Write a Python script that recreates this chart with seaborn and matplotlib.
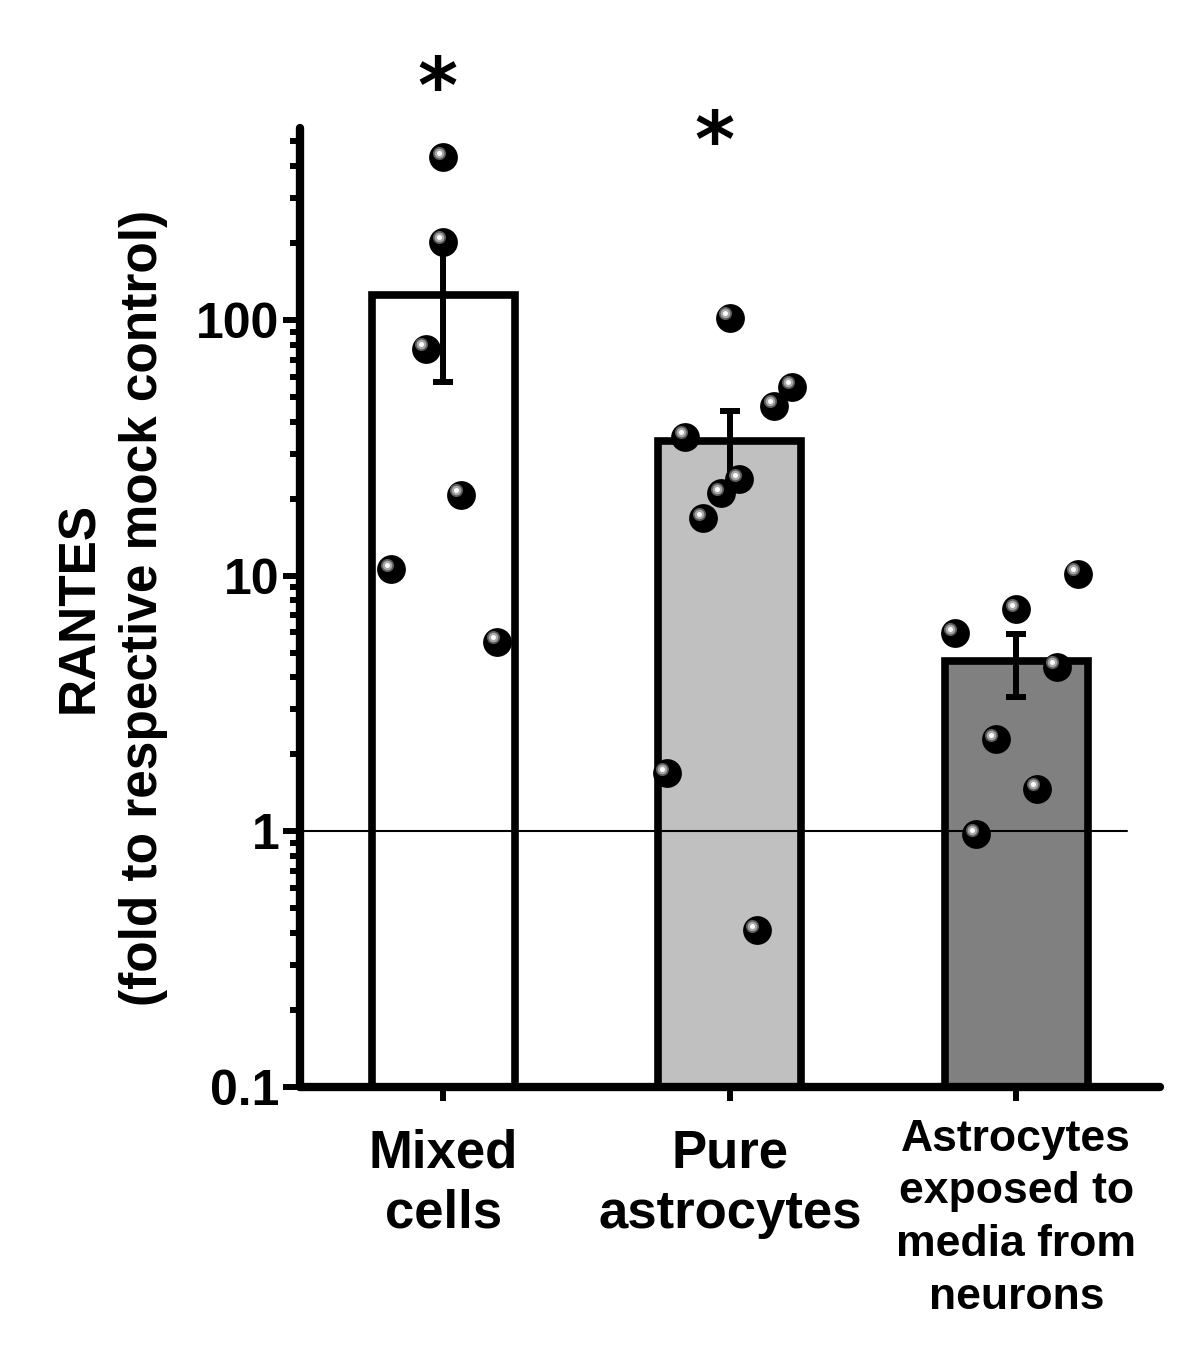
import numpy as np
import pandas as pd
import matplotlib
matplotlib.use("Agg")
import matplotlib.pyplot as plt
import matplotlib.transforms as mtransforms
from matplotlib.ticker import FixedLocator, LogLocator, NullFormatter
import seaborn as sns

# === Data ===
groups = ["Mixed\ncells", "Pure\nastrocytes", "Astrocytes\nexposed to\nmedia from\nneurons"]
bar_means = [125, 33.6, 4.63]
bar_sem = [68, 10.5, 1.27]
bar_colors = ["#ffffff", "#c0c0c0", "#808080"]

# individual experiments (value, horizontal jitter in category units)
mixed_vals = [433, 202, 77.2, 20.7, 10.6, 5.5]
mixed_dx = [0.0, 0.0, -0.061, 0.061, -0.183, 0.187]
pure_vals = [102, 54.8, 46.1, 34.9, 23.8, 21.0, 16.8, 1.69, 0.41]
pure_dx = [0.0, 0.219, 0.155, -0.156, 0.032, -0.031, -0.093, -0.22, 0.094]
exposed_vals = [10.2, 7.39, 5.95, 4.40, 2.29, 1.47, 0.975]
exposed_dx = [0.214, 0.0, -0.215, 0.141, -0.072, 0.072, -0.141]

# significance marks
star_x = [-0.02, 0.945]
star_y = [650, 400]

pts = pd.DataFrame({
    "x": [0 + d for d in mixed_dx] + [1 + d for d in pure_dx] + [2 + d for d in exposed_dx],
    "y": mixed_vals + pure_vals + exposed_vals,
})

# === Style ===
sns.set_style("ticks")
plt.rcParams["font.family"] = ["Liberation Sans", "DejaVu Sans"]
plt.rcParams["font.weight"] = "bold"
for key in ["text.color", "axes.labelcolor", "xtick.color", "ytick.color", "axes.edgecolor"]:
    plt.rcParams[key] = "black"

fig = plt.figure(figsize=(12, 13.6), dpi=100)
ax = fig.add_axes([0.25, 1 - 1087 / 1360, 859.5 / 1200, (1087 - 128) / 1360])

sns.barplot(x=groups, y=bar_means, hue=groups, palette=bar_colors, legend=False,
            width=0.5, edgecolor="black", linewidth=5.5, saturation=1,
            errorbar=None, ax=ax, zorder=2)

ax.set_yscale("log")
ax.set_ylim(0.1, 564)
ax.set_xlim(-0.5, 2.5)

# SEM error bars
ax.errorbar(range(len(groups)), bar_means, yerr=bar_sem, fmt="none", ecolor="black",
            elinewidth=4.3, capsize=7.5, capthick=4.3, zorder=4)

# reference line at 1 (no change)
ax.axhline(1, xmin=0, xmax=0.962, color="black", lw=1.5, zorder=3)

# dots: black balls with a shiny highlight
sns.scatterplot(data=pts, x="x", y="y", color="black", s=430, linewidth=0,
                zorder=5, ax=ax, legend=False)
hl = ax.transData + mtransforms.ScaledTranslation(-3.1 / 72, 3.3 / 72, fig.dpi_scale_trans)
ax.scatter(pts["x"], pts["y"], s=90, color="#5a5a5a", linewidth=0, transform=hl, zorder=6)
ax.scatter(pts["x"], pts["y"], s=48, color="#a8a8a8", linewidth=0, transform=hl, zorder=7)
ax.scatter(pts["x"], pts["y"], s=13, color="#ffffff", linewidth=0, transform=hl, zorder=8)

# asterisks
for xs, yv in zip(star_x, star_y):
    ax.text(xs, yv, "*", fontsize=55, family="DejaVu Sans", fontweight="bold",
            ha="center", va="baseline", clip_on=False)

# y axis
ax.yaxis.set_major_locator(FixedLocator([0.1, 1, 10, 100]))
ax.set_yticklabels(["0.1", "1", "10", "100"])
ax.yaxis.set_minor_locator(LogLocator(base=10, subs=np.arange(2, 10)))
ax.yaxis.set_minor_formatter(NullFormatter())
ax.tick_params(axis="y", which="major", length=12, width=4.3, labelsize=36, pad=3)
ax.tick_params(axis="y", which="minor", length=7, width=4.3)
for lab in ax.get_yticklabels():
    lab.set_fontweight("bold")

# x axis: ticks only, labels placed under each bar
ax.set_xticks(range(len(groups)))
ax.set_xticklabels([])
ax.tick_params(axis="x", which="major", length=10, width=4.3)
label_size = [38, 38, 32]
label_gap = [30, 30, 23]
label_spacing = [1.26, 1.26, 1.36]
for i, name in enumerate(groups):
    ax.annotate(name, xy=(i, 0), xycoords=("data", "axes fraction"),
                xytext=(0, -label_gap[i]), textcoords="offset points",
                ha="center", va="top", fontsize=label_size[i], fontweight="bold",
                linespacing=label_spacing[i], annotation_clip=False)

ax.set_xlabel("")
ax.set_ylabel("RANTES\n(fold to respective mock control)", fontsize=37, fontweight="bold",
              labelpad=20, linespacing=1.4)

sns.despine(ax=ax)
for side in ["left", "bottom"]:
    ax.spines[side].set_linewidth(6)
    ax.spines[side].set_capstyle("round")

fig.savefig("out.png", dpi=100)
